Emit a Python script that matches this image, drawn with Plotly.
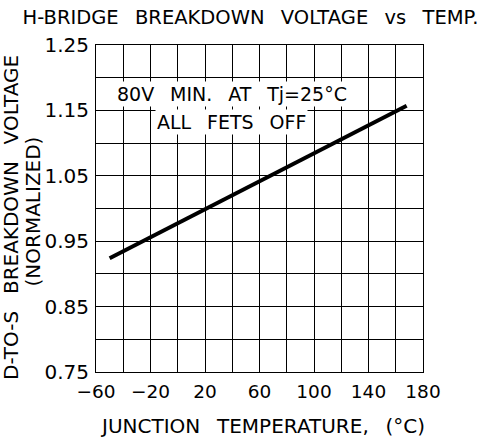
import plotly.graph_objects as go

# Data
temp_c = [-50, 168]
bv_norm = [0.924, 1.157]

x_tick_vals = [-60, -20, 20, 60, 100, 140, 180]
y_tick_vals = [0.75, 0.85, 0.95, 1.05, 1.15, 1.25]
y_tick_text = ["0.75", "0.85", "0.95", "1.05", "1.15", "1.25"]

G = "\u00a0\u00a0\u2009"  # wide word gap
title_text = G.join(["H-BRIDGE", "BREAKDOWN", "VOLTAGE", "vs", "TEMP."])
note_line1 = G.join(["80V", "MIN.", "AT", "Tj=25°C"])
note_line2 = G.join(["ALL", "FETS", "OFF"])
x_title = G.join(["JUNCTION", "TEMPERATURE,", "(°C)"])
y_title_1 = G.join(["D-TO-S", "BREAKDOWN", "VOLTAGE"])
y_title_2 = "(NORMALIZED)"

FONT = "DejaVu Sans"
W, H = 484, 441
L, R, T, B = 96, 61, 45, 69
PW, PH = W - L - R, H - T - B


def px_x(px):
    return (px - L) / PW


def px_y(py):
    return 1 - (py - T) / PH


fig = go.Figure()
fig.add_trace(go.Scatter(
    x=temp_c, y=bv_norm, mode="lines",
    line=dict(color="black", width=4),
    showlegend=False, hoverinfo="skip",
))

fig.update_layout(
    width=W, height=H,
    margin=dict(l=L, r=R, t=T, b=B, autoexpand=False),
    paper_bgcolor="white", plot_bgcolor="white",
    font=dict(family=FONT, color="black", size=19),
    title=dict(text=title_text, x=250.5 / W, xanchor="center",
               y=1 - 17 / H, yanchor="middle", automargin=False,
               font=dict(family=FONT, size=19.5, color="black")),
    xaxis=dict(
        range=[-60, 180], tickmode="array", tickvals=x_tick_vals,
        showgrid=True, gridcolor="black", gridwidth=1,
        minor=dict(dtick=20, tick0=-60, showgrid=True, gridcolor="black", gridwidth=1),
        showline=True, linecolor="black", linewidth=1, mirror=True,
        ticks="", zeroline=False, automargin=False,
        tickfont=dict(size=18.5), ticklabelstandoff=3,
    ),
    yaxis=dict(
        range=[0.75, 1.25], tickmode="array", tickvals=y_tick_vals, ticktext=y_tick_text,
        showgrid=True, gridcolor="black", gridwidth=1,
        minor=dict(dtick=0.05, tick0=0.75, showgrid=True, gridcolor="black", gridwidth=1),
        showline=True, linecolor="black", linewidth=1, mirror=True,
        ticks="", zeroline=False, automargin=False,
        tickfont=dict(size=20), ticklabelstandoff=2,
    ),
)

# in-plot note (white background hides the grid behind the text)
fig.add_annotation(
    x=px_x(232), xref="paper", y=px_y(94), yref="paper",
    text=note_line1, showarrow=False, bgcolor="white", borderpad=1,
    xanchor="center", yanchor="middle", font=dict(size=19),
)
fig.add_annotation(
    x=px_x(231), xref="paper", y=px_y(122), yref="paper",
    text=note_line2, showarrow=False, bgcolor="white", borderpad=1,
    xanchor="center", yanchor="middle", font=dict(size=19),
)

# axis titles
fig.add_annotation(
    x=px_x(262.5), xref="paper", y=px_y(426), yref="paper",
    text=x_title, showarrow=False, xanchor="center", yanchor="middle",
    font=dict(size=20),
)
fig.add_annotation(
    x=px_x(11), xref="paper", y=px_y(218), yref="paper",
    text=y_title_1, showarrow=False, xanchor="center", yanchor="middle",
    textangle=-90, font=dict(size=20),
)
fig.add_annotation(
    x=px_x(32.5), xref="paper", y=px_y(212), yref="paper",
    text=y_title_2, showarrow=False, xanchor="center", yanchor="middle",
    textangle=-90, font=dict(size=20),
)

fig.write_html("out.html", config={"displayModeBar": False},
               post_script="document.body.style.margin='0';")
